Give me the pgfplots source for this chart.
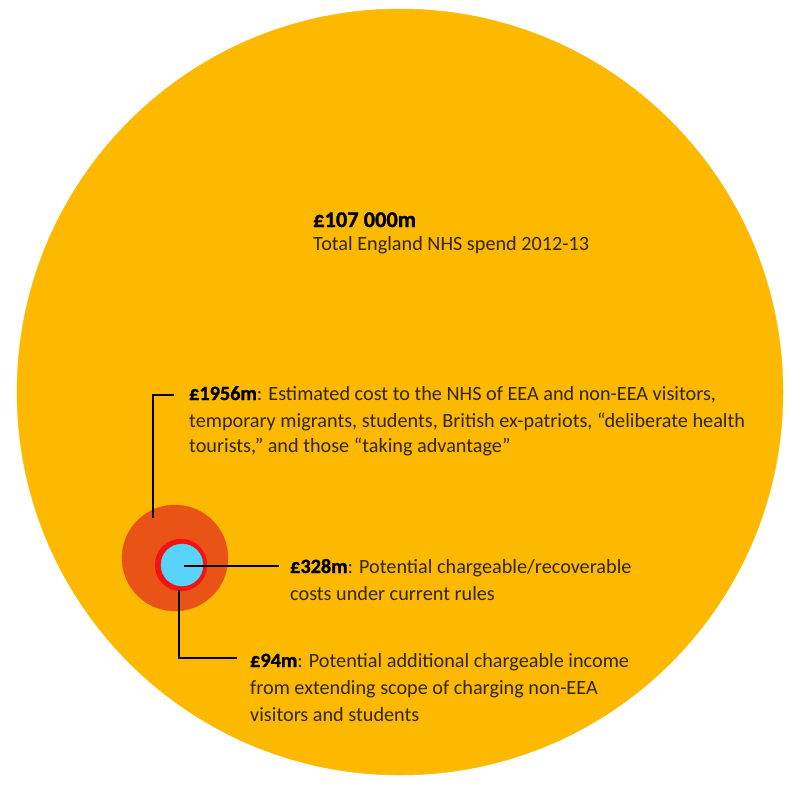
\documentclass[border=0pt]{standalone}
\usepackage{pgfplots}
\pgfplotsset{compat=1.18}
\usepackage{fontspec}
\setmainfont{Carlito}[BoldFeatures={FakeBold=1.2}]
\definecolor{bigY}{RGB}{253,185,0}
\definecolor{orng}{RGB}{233,84,22}
\definecolor{redc}{RGB}{242,18,18}
\definecolor{bluec}{RGB}{88,212,250}
\definecolor{txt}{RGB}{50,38,20}
\begin{document}
\begin{tikzpicture}
\begin{axis}[width=789bp, height=786bp, scale only axis,
  xmin=0, xmax=789, ymin=0, ymax=786, y dir=reverse,
  axis line style={draw=none}, ticks=none,
  axis background/.style={fill=white}, clip=false, clip marker paths=true]
% circles: radius proportional to sqrt(value)
\addplot[only marks, mark=*, mark size=383bp, color=bigY, mark options={fill=bigY, draw=none}] coordinates {(400,392)};
\addplot[only marks, mark=*, mark size=53bp, color=orng, mark options={fill=orng, draw=none}] coordinates {(175,558)};
\addplot[only marks, mark=*, mark size=26bp, color=redc, mark options={fill=redc, draw=none}] coordinates {(181,565)};
\addplot[only marks, mark=*, mark size=21bp, color=bluec, mark options={fill=bluec, draw=none}] coordinates {(182,565)};
% leader lines
\addplot[black, line width=1.3bp, mark=none] coordinates {(174,395) (153,395) (153,518)};
\addplot[black, line width=1.3bp, mark=none] coordinates {(184,566) (279,566)};
\addplot[black, line width=1.3bp, mark=none] coordinates {(179,590) (179,658) (237,658)};
% texts
\tikzset{t/.style={anchor=base west, inner sep=0pt, font=\fontsize{20.3}{24}\selectfont, text=txt}}
\node[t, font=\fontsize{22.5}{26}\selectfont] at (axis cs:313,227) {\textcolor{black}{\textbf{£107 000m}}};
\node[t] at (axis cs:313,250) {Total England NHS spend 2012-13};
\node[t] at (axis cs:189,400) {\textcolor{black}{\textbf{£1956m}}: Estimated cost to the NHS of EEA and non-EEA visitors,};
\node[t] at (axis cs:189,427) {temporary migrants, students, British ex-patriots, “deliberate health};
\node[t] at (axis cs:189,452) {tourists,” and those “taking advantage”};
\node[t] at (axis cs:290,573) {\textcolor{black}{\textbf{£328m}}: Potential chargeable/recoverable};
\node[t] at (axis cs:290,600) {costs under current rules};
\node[t] at (axis cs:250,667) {\textcolor{black}{\textbf{£94m}}: Potential additional chargeable income};
\node[t] at (axis cs:250,694) {from extending scope of charging non-EEA};
\node[t] at (axis cs:250,721) {visitors and students};
\end{axis}
\end{tikzpicture}
\end{document}
